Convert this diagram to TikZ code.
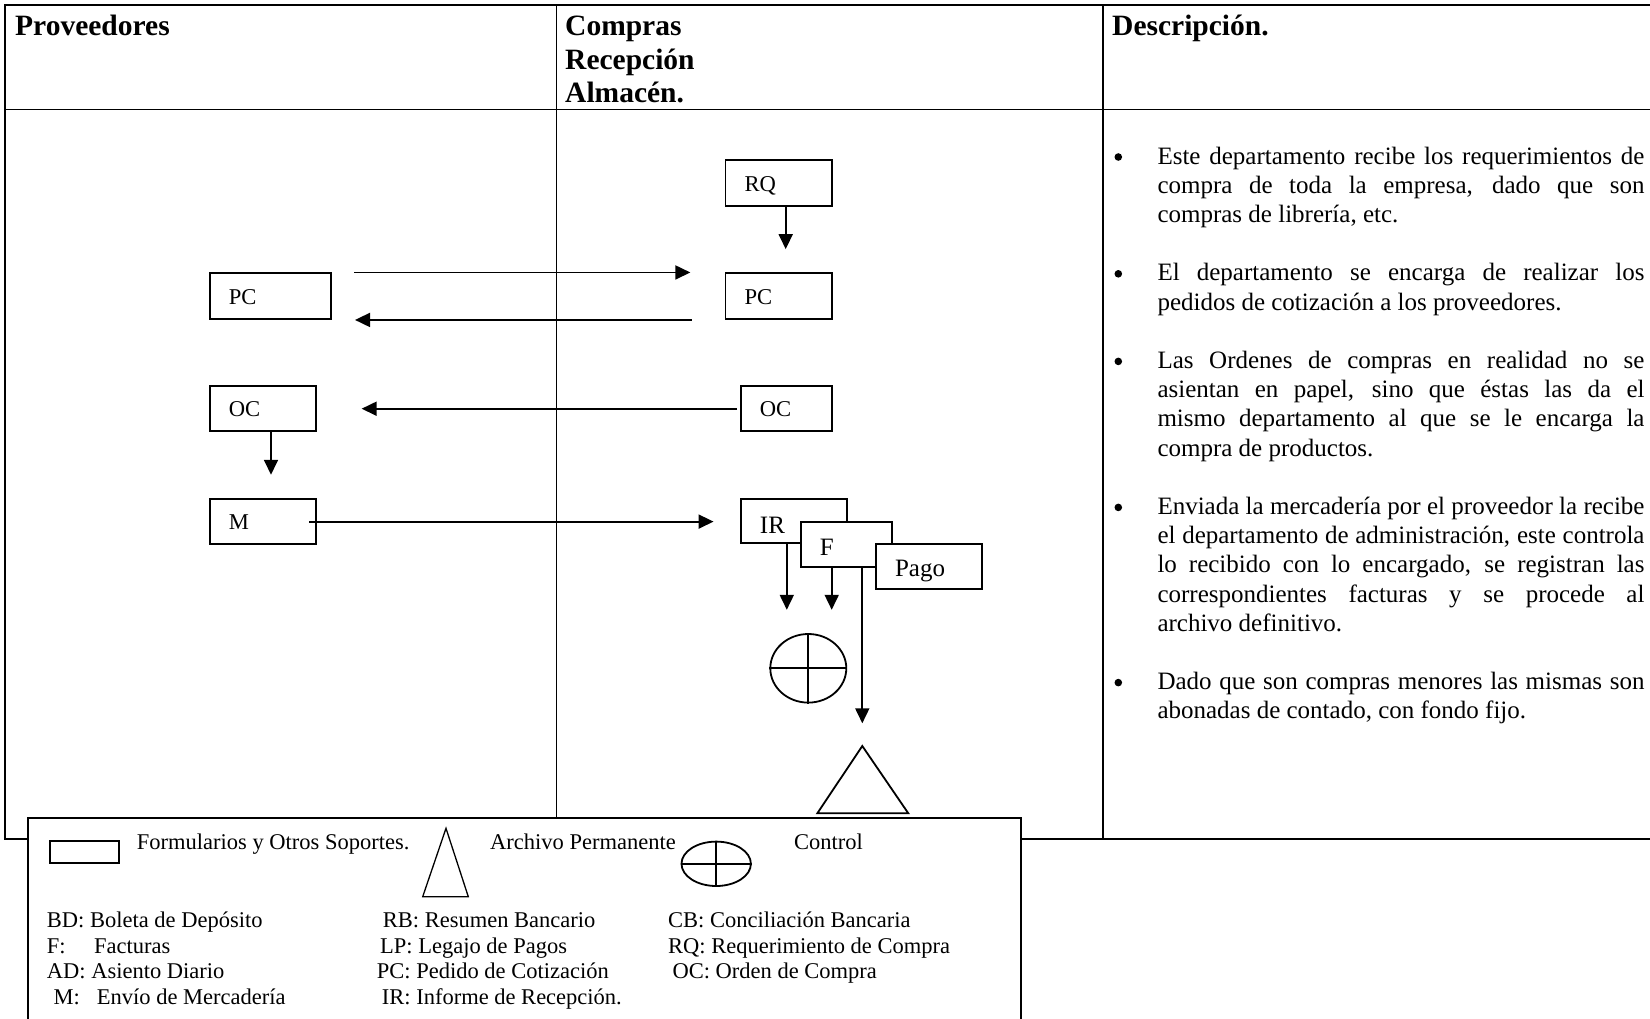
\documentclass[tikz,border=0pt]{standalone}
\usepackage{fontspec}
\setmainfont{Liberation Serif}
\usetikzlibrary{arrows.meta,shapes.geometric}
\newcommand\jl[1]{\makebox[487pt][s]{#1}}
\begin{document}
\begin{tikzpicture}[x=1pt,y=-1pt,
  box/.style={draw, line width=1.8pt, fill=white, rectangle, align=left, inner xsep=19pt, inner ysep=0pt, text height=16pt, text depth=0pt, font=\fontsize{22.6}{26}\selectfont},
  bigbox/.style={box, font=\fontsize{25}{29}\selectfont},
  arr/.style={line width=1.8pt, -{Triangle[length=15pt,width=14pt]}},
  tline/.style={line width=1.8pt},
  vline/.style={line width=1.1pt},
  shp/.style={line width=1.8pt},
  desc/.style={anchor=base west, inner sep=0pt, font=\fontsize{25}{29.2}\selectfont},
  leg/.style={anchor=base west, inner sep=0pt, font=\fontsize{22.5}{25.6}\selectfont},
  head/.style={anchor=base west, inner sep=0pt, font=\fontsize{29.5}{33.7}\selectfont\bfseries},
  bul/.style={circle, fill, inner sep=0pt, minimum size=7.6pt}
]
\useasboundingbox[fill=white] (0,0) rectangle (1650,1018);

% table
\draw[tline] (4,5.3) -- (1650,5.3);
\draw[tline] (4,109.5) -- (1650,109.5);
\draw[tline] (4,839) -- (1650,839);
\draw[tline] (5,4.4) -- (5,840);
\draw[vline] (556.7,5.3) -- (556.7,839);
\draw[vline] (1103,5.3) -- (1103,839);

% headers
\node[head] (h1) at (15,35.5) {Proveedores};
\node[head] (h2a) at (565,35.5) {Compras};
\node[head] (h2b) at (565,69.2) {Recepción};
\node[head] (h2c) at (565,102.9) {Almacén.};
\node[head] (h3) at (1112,35.5) {Descripción.};

% boxes
\node[box, text width=68.3pt, minimum height=45.7pt] (rq) at (778.7,183) {RQ};
\node[box, text width=68.3pt, minimum height=45.7pt] (pcR) at (778.7,296.2) {PC};
\node[box, text width=83pt, minimum height=45.7pt] (pcL) at (270.4,296.2) {PC};
\node[box, text width=53.1pt, minimum height=45.3pt] (ocR) at (786.3,408.7) {OC};
\node[box, text width=68.3pt, minimum height=45.3pt] (ocL) at (263,408.7) {OC};
\node[box, text width=68.3pt, minimum height=45.3pt] (m) at (263,521.6) {M};
\node[bigbox, text width=67.7pt, minimum height=44.3pt, text height=24pt] (ir) at (793.8,521.2) {IR};
\node[bigbox, text width=52.7pt, minimum height=45pt, text height=21.6pt] (f) at (846.3,544.2) {F};
\node[bigbox, text width=68.3pt, minimum height=45pt, text height=20.4pt] (pago) at (929.2,566.5) {Pago};

% control and archive
\node[ellipse, draw, line width=1.8pt, minimum width=76pt, minimum height=68.6pt, inner sep=0pt] (ctl) at (808.3,668.3) {};
\draw[shp] (ctl.north) -- (ctl.south) (ctl.west) -- (ctl.east);
\coordinate (arch) at (862.3,746);
\draw[shp] (arch) -- (817.3,813.3) -- (908.3,813.3) -- cycle;

% connectors
\draw[arr, shorten >=23.3pt] ([xshift=7pt]rq.south) -- ([xshift=7pt]pcR.north);
\draw[arr, shorten <=22.3pt, shorten >=34.3pt] (pcL.north east) -- (pcR.north west);
\draw[arr, shorten <=33pt, shorten >=23.2pt] (pcR.south west) -- (pcL.south east);
\draw[arr, shorten <=2.7pt, shorten >=44.6pt] (ocR.west) -- (ocL.east);
\draw[arr, shorten >=23.3pt] ([xshift=8pt]ocL.south) -- ([xshift=8pt]m.north);
\draw[arr, shorten <=-8pt, shorten >=26.5pt] (m.east) -- (m.east -| ir.west);
\draw[arr, shorten >=23.3pt] ([xshift=-7pt]ir.south) -- ([xshift=-7pt]ir.south |- ctl.north);
\draw[arr, shorten >=23.3pt] ([xshift=-14.6pt]f.south) -- ([xshift=-14.6pt]f.south |- ctl.north);
\draw[arr, shorten >=22.7pt] (f.south -| arch) -- (arch);

% description
\foreach \k/\t in {
 0/{\jl{Este departamento recibe los requerimientos de}},
 1/{\jl{compra de toda la empresa, dado que son}},
 2/{compras de librería, etc.},
 4/{\jl{El departamento se encarga de realizar los}},
 5/{pedidos de cotización a los proveedores.},
 7/{\jl{Las Ordenes de compras en realidad no se}},
 8/{\jl{asientan en papel, sino que éstas las da el}},
 9/{\jl{mismo departamento al que se le encarga la}},
 10/{compra de productos.},
 12/{\jl{Enviada la mercadería por el proveedor la recibe}},
 13/{\jl{el departamento de administración, este controla}},
 14/{\jl{lo recibido con lo encargado, se registran las}},
 15/{\jl{correspondientes facturas y se procede al}},
 16/{archivo definitivo.},
 18/{\jl{Dado que son compras menores las mismas son}},
 19/{abonadas de contado, con fondo fijo.}}
 \node[desc] (d\k) at (1157.3,{164+29.2*\k}) {\t};
\foreach \k in {0,4,7,12,18}
 \node[bul] (b\k) at (1118.3,{157+29.2*\k}) {};

% legend
\draw[tline, fill=white] (27.8,818.3) rectangle (1021,1030);
\node[draw, line width=1.8pt, minimum width=69pt, minimum height=22.3pt, inner sep=0pt] (lbox) at (84.5,852.2) {};
\node[leg] (l1) at (136.7,849.3) {Formularios y Otros Soportes.};
\coordinate (ltri) at (446,828.3);
\draw[line width=1.3pt] (ltri) -- (422.7,896.7) -- (468.3,896.7) -- cycle;
\node[leg] (l2) at (490,849.3) {Archivo Permanente};
\node[ellipse, draw, line width=1.8pt, minimum width=69.4pt, minimum height=44.4pt, inner sep=0pt] (lctl) at (716.2,863.8) {};
\draw[shp] (lctl.north) -- (lctl.south) (lctl.west) -- (lctl.east);
\node[leg] (l3) at (794,849.3) {Control};

\node[leg] (a1) at (46.7,927.5) {BD: Boleta de Depósito};
\node[leg] (a2) at (46.7,953) {\makebox[47.3pt][l]{F:}Facturas};
\node[leg] (a3) at (46.7,978.5) {AD: Asiento Diario};
\node[leg] (a4) at (53.3,1004) {\makebox[43.4pt][l]{M:}Envío de Mercadería};
\node[leg] (c1) at (382.7,927.5) {RB: Resumen Bancario};
\node[leg] (c2) at (380,953) {LP: Legajo de Pagos};
\node[leg] (c3) at (376.7,978.5) {PC: Pedido de Cotización};
\node[leg] (c4) at (381.7,1004) {IR: Informe de Recepción.};
\node[leg] (e1) at (668,927.5) {CB: Conciliación Bancaria};
\node[leg] (e2) at (668,953) {RQ: Requerimiento de Compra};
\node[leg] (e3) at (672.4,978.5) {OC: Orden de Compra};
\end{tikzpicture}
\end{document}
